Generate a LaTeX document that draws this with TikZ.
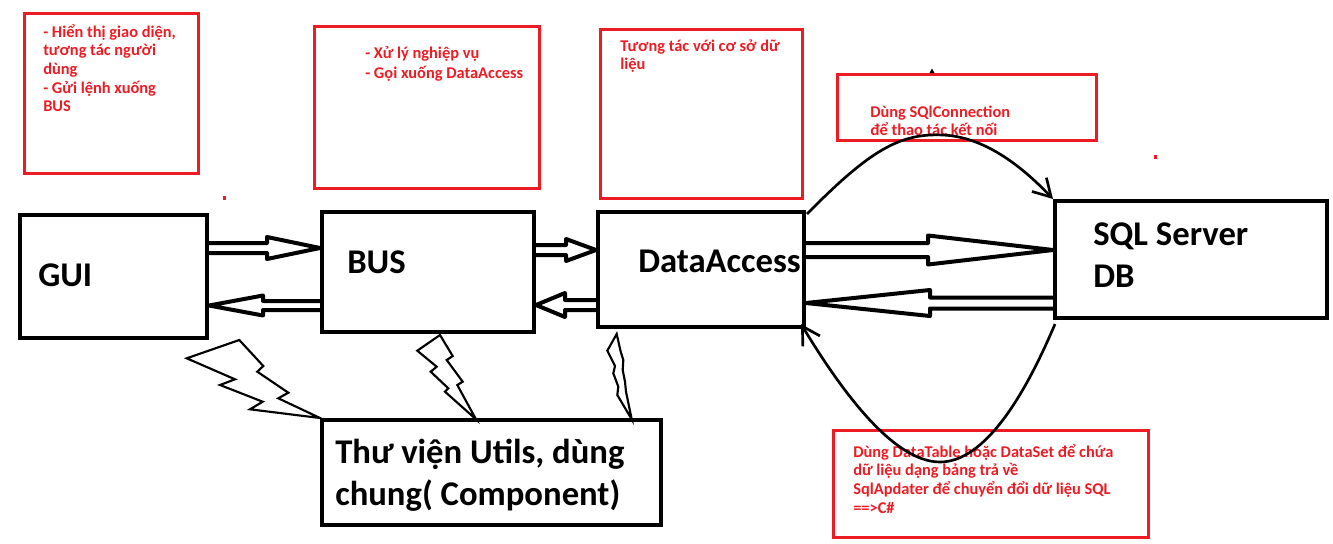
\documentclass[tikz,border=0pt]{standalone}
\usepackage{fontspec}
\setmainfont{Carlito}
\usetikzlibrary{arrows.meta,calc,fit}
\definecolor{paintred}{RGB}{237,28,36}
\newcommand{\notelines}[1]{\begin{tabular}[t]{@{}l@{}}#1\end{tabular}}
\newcommand{\hollowarrow}[6]{%
  \draw[hollow] ($(#1 |- 0,#3)+(0,-#5)$) -- (#4,#3-#5) -- (#4,#3-#6)
    -- (#2 |- 0,#3) -- (#4,#3+#6) -- (#4,#3+#5) -- ($(#1 |- 0,#3)+(0,#5)$);}
\tikzset{
  blkbox/.style={draw=black, line width=3pt, inner sep=0pt},
  redbox/.style={draw=paintred, line width=2.25pt, inner sep=0pt},
  note/.style={text=paintred, font=\fontsize{12.3pt}{14pt}\selectfont\bfseries, inner sep=0pt, anchor=base west},
  lbl/.style={text=black, font=\fontsize{26pt}{31.5pt}\selectfont\bfseries, inner sep=0pt, anchor=base west},
  hollow/.style={draw=black, line width=3pt, line join=round},
  bolt/.style={draw=black, line width=1.6pt, line join=miter},
  curve/.style={draw=black, line width=2pt, -{Straight Barb[length=13pt, width=15pt, line width=2pt]}},
}
\begin{document}
\begin{tikzpicture}[x=0.75pt,y=-0.75pt]
\useasboundingbox (0,0) rectangle (1333,543);
% red note boxes
\node[redbox, fit={(24,13) (198,173)}] (n1) {};
\node[redbox, fit={(314,26) (539,188)}] (n2) {};
\node[redbox, fit={(600,29) (802,198)}] (n3) {};
\node[redbox, fit={(837,74) (1096,140)}] (n4) {};
\node[redbox, fit={(833,430) (1148,537)}] (n5) {};
\node[note] (t1) at (43,37) {\notelines{- Hiển thị giao diện,\\tương tác người\\dùng\\- Gửi lệnh xuống\\BUS}};
\node[note, font=\fontsize{12.3pt}{15pt}\selectfont\bfseries] (t2) at (365,58) {\notelines{- Xử lý nghiệp vụ\\- Gọi xuống DataAccess}};
\node[note] (t3) at (620,51) {\notelines{Tương tác với cơ sở dữ\\liệu}};
\node[note] (t4) at (870,117) {\notelines{Dùng SQlConnection\\để thao tác kết nối}};
\node[note] (t5) at (853,457) {\notelines{Dùng DataTable hoặc DataSet để chứa\\dữ liệu dạng bảng trả về\\SqlApdater để chuyển đổi dữ liệu SQL\\==>C\#}};
\fill[paintred] (222.5,195.5) rectangle (225.5,200);
\fill[paintred] (1153.5,154.5) rectangle (1156.5,159);
\fill[black] (929.5,73) -- (932,68.5) -- (934.5,73) -- cycle;
% black boxes
\node[blkbox, fit={(20,215) (207,338)}] (gui) {};
\node[blkbox, fit={(322,212) (534,332)}] (bus) {};
\node[blkbox, fit={(598,212) (804,327)}] (da) {};
\node[blkbox, fit={(1055,201) (1327,318)}] (sql) {};
\node[blkbox, fit={(322,420) (661,525)}] (utils) {};
\node[lbl] (lgui) at (38,286) {GUI};
\node[lbl] (lbus) at (347,273) {BUS};
\node[lbl] (lda) at (638,272) {DataAccess};
\node[lbl] (lsql) at (1093,245) {\begin{tabular}[t]{@{}l@{}}SQL Server\\DB\end{tabular}};
\node[lbl] (lutils) at (335,463) {\begin{tabular}[t]{@{}l@{}}Thư viện Utils, dùng\\chung( Component)\end{tabular}};
% hollow arrows
\hollowarrow{gui.east}{bus.west}{248}{267}{5}{11}
\hollowarrow{bus.west}{gui.east}{305.5}{263}{4.5}{10}
\hollowarrow{bus.east}{da.west}{250}{566}{5}{11}
\hollowarrow{da.west}{bus.east}{305}{565}{5}{12}
\hollowarrow{da.east}{sql.west}{250}{928}{7}{14.5}
\hollowarrow{sql.west}{da.east}{303}{930}{5.5}{13}
% curves
\draw[curve] ($(da.north east)+(1,4)$) .. controls (870,150) and (900,133) .. (943,135)
  .. controls (990,137) and (1030,175) .. (sql.north west);
\draw[curve] ($(sql.south west)+(2,4)$) .. controls (1025,395) and (985,462) .. (940,462)
  .. controls (890,462) and (835,380) .. ($(da.south east)+(-5,-5)$);
% lightning bolts
\draw[bolt] (186.7,358.3) -- (239.3,340) -- (263.3,366) -- (257.3,371.7) -- (288.3,392.7)
  -- (278.3,398.3) -- (utils.north west) -- (250,409.3) -- (262.7,401.7) -- (220,385)
  -- (235,379.3) -- cycle;
\draw[bolt] (440,335) -- (417.3,350.7) -- (436.7,366.7) -- (430.7,371.7) -- (448.3,388.3)
  -- (445,391.7) -- (476,419.3) -- (457.3,385) -- (462.7,381.7) -- (446.7,360)
  -- (452.7,356) -- cycle;
\draw[bolt] (616.7,334) -- (607.3,350.7) -- (615,366) -- (613.3,373.3) -- (618.3,386.7)
  -- (617.3,395) -- (631.7,419.3) -- (626,391.7) -- (625,381.7) -- (622.7,370)
  -- (623.3,360) -- (620.7,351.7) -- cycle;
\end{tikzpicture}
\end{document}
